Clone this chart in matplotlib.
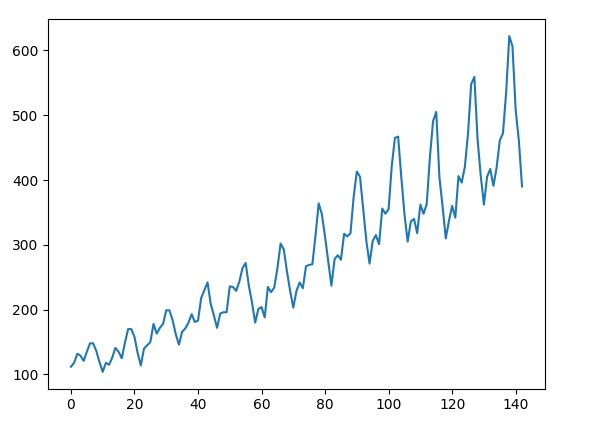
import matplotlib
matplotlib.use('Agg')
import numpy as np
import matplotlib.pyplot as plt

# monthly airline passengers (thousands), Jan 1949 onwards
passengers = [
    112, 118, 132, 129, 121, 135, 148, 148, 136, 119, 104, 118,
    115, 126, 141, 135, 125, 149, 170, 170, 158, 133, 114, 140,
    145, 150, 178, 163, 172, 178, 199, 199, 184, 162, 146, 166,
    171, 180, 193, 181, 183, 218, 230, 242, 209, 191, 172, 194,
    196, 196, 236, 235, 229, 243, 264, 272, 237, 211, 180, 201,
    204, 188, 235, 227, 234, 264, 302, 293, 259, 229, 203, 229,
    242, 233, 267, 269, 270, 315, 364, 347, 312, 274, 237, 278,
    284, 277, 317, 313, 318, 374, 413, 405, 355, 306, 271, 306,
    315, 301, 356, 348, 355, 422, 465, 467, 404, 347, 305, 336,
    340, 318, 362, 348, 363, 435, 491, 505, 404, 359, 310, 337,
    360, 342, 406, 396, 420, 472, 548, 559, 463, 407, 362, 405,
    417, 391, 419, 461, 472, 535, 622, 606, 508, 461, 390,
]

fig, ax = plt.subplots(figsize=(5.9, 4.29), dpi=100)
fig.subplots_adjust(left=0.082, right=0.923, bottom=0.094, top=0.955)
ax.plot(np.arange(len(passengers)), passengers)
fig.savefig("out.png", dpi=100)
